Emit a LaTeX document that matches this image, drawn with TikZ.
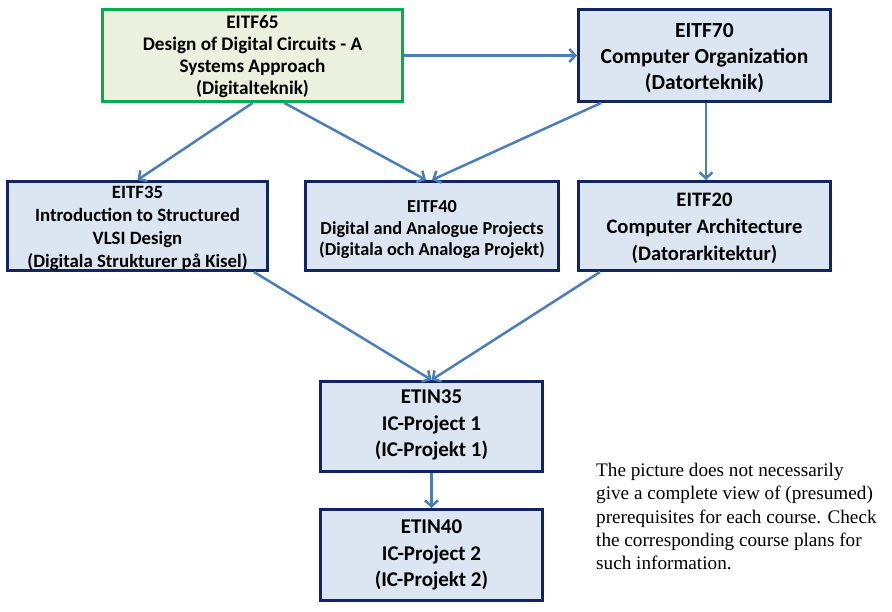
\documentclass[tikz,border=0pt]{standalone}
\usepackage{fontspec}
\setmainfont{Carlito}
\newfontfamily\notefont{Liberation Serif}
\usepackage{xcolor}
\usetikzlibrary{arrows.meta}

\definecolor{boxline}{RGB}{16,37,98}
\definecolor{boxfill}{RGB}{220,230,242}
\definecolor{greenline}{RGB}{0,176,80}
\definecolor{greenfill}{RGB}{235,241,222}
\definecolor{arrowblue}{RGB}{74,126,187}

\begin{document}
\begin{tikzpicture}[x=1pt,y=-1pt,
            course/.style={draw=boxline,fill=boxfill,line width=3pt,
                align=center,inner sep=0pt,font=\bfseries},
            large/.style={font=\bfseries\fontsize{21}{26.5}\selectfont},
            prereq/.style={draw=arrowblue,line width=2.5pt,
                -{Straight Barb[length=6pt,width=13pt]}}]
    \useasboundingbox (0,0) rectangle (892,612);
        \node[course,font=\bfseries\fontsize{19.2}{22.3}\selectfont,
            draw=greenline,fill=greenfill,text height=85.5,text depth=6.5,
            minimum width=300,minimum height=92] (eitf65) at (252.5,55.5)
            {EITF65\\Design of Digital Circuits - A\\Systems Approach\\(Digitalteknik)};
        \node[course,font=\bfseries\fontsize{21.5}{26}\selectfont,
            text height=80.4,text depth=11.6,
            minimum width=252,minimum height=92] (eitf70) at (704.5,55.5)
            {EITF70\\Computer Organization\\(Datorteknik)};
        \node[course,font=\bfseries\fontsize{18.8}{22.8}\selectfont,
            text height=85.9,text depth=3.1,
            minimum width=260,minimum height=89] (eitf35) at (137.5,226)
            {EITF35\\Introduction to Structured\\VLSI Design\\(Digitala Strukturer på Kisel)};
        \node[course,font=\bfseries\fontsize{18.3}{21.5}\selectfont,
            text height=74.4,text depth=14.6,
            minimum width=253,minimum height=89] (eitf40) at (432,226)
            {EITF40\\Digital and Analogue Projects\\(Digitala och Analoga Projekt)};
        \node[course,font=\bfseries\fontsize{20.6}{27}\selectfont,
            text height=79.1,text depth=9.9,
            minimum width=252,minimum height=89] (eitf20) at (704.5,226)
            {EITF20\\Computer Architecture\\(Datorarkitektur)};
        \node[course,large,text height=75.2,text depth=14.8,
            minimum width=222,minimum height=90] (etin35) at (431.5,426.5)
            {ETIN35\\IC-Project 1\\(IC-Projekt 1)};
        \node[course,large,text height=77.2,text depth=13.8,
            minimum width=222,minimum height=91] (etin40) at (431.5,555)
            {ETIN40\\IC-Project 2\\(IC-Projekt 2)};
        \node[anchor=north west,align=left,inner sep=0pt,
            font=\notefont\fontsize{19.2}{23.3}\selectfont] (note) at (596,463)
            {The picture does not necessarily\\give a complete view of (presumed)\\
            prerequisites for each course. Check\\the corresponding course plans for\\
            such information.};
    % prerequisites
    \draw[prereq] (eitf65) -- (eitf70);
    \draw[prereq] (eitf65.south) -- (eitf35.north);
    \draw[prereq] ([xshift=32]eitf65.south) -- ([xshift=-6]eitf40.north);
    \draw[prereq] ([xshift=-103.5]eitf70.south) -- (eitf40.north);
    \draw[prereq] ([xshift=1.5]eitf70.south) -- ([xshift=1.5]eitf20.north);
    \draw[prereq] ([xshift=116.5]eitf35.south) -- (etin35.north);
    \draw[prereq] ([xshift=-104.5]eitf20.south) -- (etin35.north);
    \draw[prereq] (etin35) -- (etin40);
\end{tikzpicture}
\end{document}
